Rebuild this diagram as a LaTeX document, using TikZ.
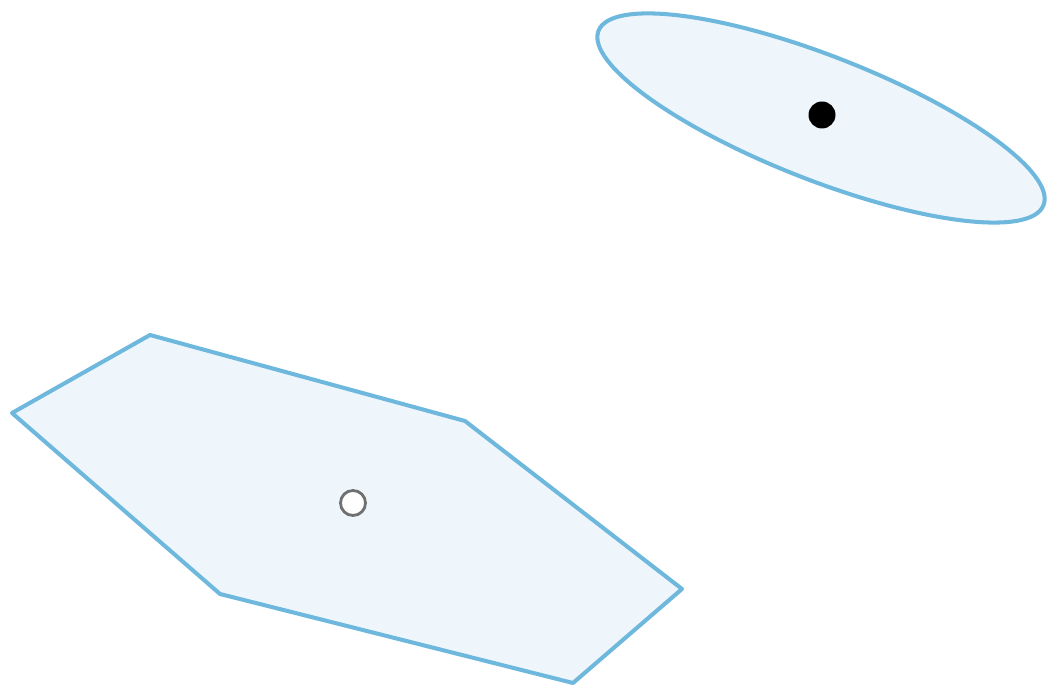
\documentclass[tikz,border=0pt]{standalone}
\usepackage{tikz}
\usetikzlibrary{positioning}
\usepackage{xcolor}
\definecolor{Rim}{HTML}{6FB8DD}
\definecolor{Wash}{HTML}{EEF6FC}
\definecolor{Ring}{HTML}{707070}
\tikzset{
  region/.style={draw=Rim,fill=Wash,line width=2.3pt,line join=round},
  fulldot/.style={circle,fill=black,inner sep=0pt,minimum size=0.54cm},
  opendot/.style={circle,draw=Ring,fill=white,line width=1.6pt,inner sep=0pt,minimum size=0.5cm}
}

\begin{document}
\begin{tikzpicture}[x=0.02cm,y=0.02cm]
\useasboundingbox (0,0) rectangle (1049,688);
% hexagon, lower left
\draw[region] (150,353) -- (465,267) -- (682,99) -- (573,5) -- (220,94) -- (12,275) -- cycle;
\node[opendot] (hole) at (353,185) {};
% ellipse, upper right
\draw[region,shift={(821,570)},rotate=-21.4] (0,0) ellipse [x radius=239,y radius=62];
\node[fulldot] (spot) at (822,573) {};
\end{tikzpicture}
\end{document}
